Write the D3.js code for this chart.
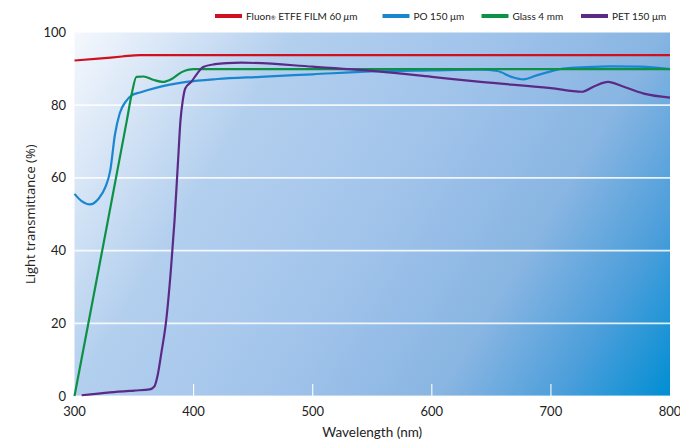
<!DOCTYPE html>
<html>
<head>
<meta charset="utf-8">
<script src="https://cdn.jsdelivr.net/npm/d3@7"></script>
<style>
  body { margin: 0; background: #fff; }
  svg { display: block; font-family: "Lato", "Open Sans", sans-serif; }
</style>
</head>
<body>
<div id="chart"></div>
<script>
// Light transmittance vs wavelength

const xTicks = [300, 400, 500, 600, 700, 800];
const yTicks = [0, 20, 40, 60, 80, 100];

const fluonWl = [300, 320, 340, 355, 370, 400, 500, 600, 700, 800];
const fluonT  = [92.3, 92.8, 93.4, 93.8, 93.8, 93.8, 93.8, 93.8, 93.8, 93.8];

const poWl = [300, 306, 313, 320, 326, 330, 334, 338, 343, 348, 355, 361, 375, 394, 420, 456, 500, 550, 600, 641, 655, 667, 677, 688, 700, 710, 730, 750, 775, 800];
const poT  = [55.6, 53.6, 52.7, 54.2, 57.5, 62.0, 72.0, 77.8, 81.0, 82.7, 83.5, 84.1, 85.3, 86.4, 87.2, 87.8, 88.5, 89.3, 89.6, 89.8, 89.4, 87.8, 87.1, 88.2, 89.3, 90.1, 90.5, 90.7, 90.6, 89.9];

const glassWl = [300, 320, 344, 348, 352, 358, 366, 374, 382, 390, 396, 400, 450, 500, 600, 700, 800];
const glassT  = [0, 34.4, 75.9, 83.0, 87.8, 87.9, 87.0, 86.4, 87.3, 89.1, 89.8, 89.9, 89.9, 89.9, 89.9, 89.9, 89.9];

const petWl = [306, 330, 350, 363, 367, 370, 373, 377, 381, 384, 387, 389, 391, 393, 398, 403, 408, 418, 428, 440, 500, 555, 600, 641, 700, 726, 737, 748, 760, 778, 800];
const petT  = [0.2, 1.0, 1.5, 1.8, 2.6, 6.0, 12.0, 20.8, 35.0, 48.3, 65.0, 75.9, 81.5, 84.6, 86.4, 88.7, 90.5, 91.3, 91.6, 91.7, 90.6, 89.3, 87.8, 86.4, 84.7, 83.7, 85.3, 86.4, 85.2, 83.2, 82.1];

const seriesNames = ["Fluon", "PO 150 μm", "Glass 4 mm", "PET 150 μm"];
const seriesColors = ["#d0101f", "#1a86d0", "#0d9146", "#5b2a86"];

const series = [
  { name: seriesNames[0], color: seriesColors[0], wl: fluonWl, t: fluonT },
  { name: seriesNames[1], color: seriesColors[1], wl: poWl, t: poT },
  { name: seriesNames[2], color: seriesColors[2], wl: glassWl, t: glassT },
  { name: seriesNames[3], color: seriesColors[3], wl: petWl, t: petT }
];

const width = 680, height = 445;
const margin = { left: 74.5, right: 10, top: 32.5, bottom: 49 };

const svg = d3.select("#chart").append("svg")
  .attr("width", width)
  .attr("height", height);

const x = d3.scaleLinear().domain([300, 800]).range([margin.left, width - margin.right]);
const y = d3.scaleLinear().domain([0, 100]).range([height - margin.bottom, margin.top]);

// background gradient
const defs = svg.append("defs");
const grad = defs.append("linearGradient")
  .attr("id", "bg")
  .attr("gradientUnits", "userSpaceOnUse")
  .attr("x1", x(300)).attr("y1", y(100))
  .attr("x2", x(800)).attr("y2", y(0));
[[0, "#f5f8fd"], [0.27, "#b3cfee"], [0.5, "#a2c4eb"], [0.72, "#88b5e2"], [0.86, "#4e9fdb"], [1, "#008ed3"]]
  .forEach(s => grad.append("stop").attr("offset", s[0]).attr("stop-color", s[1]));

svg.append("rect")
  .attr("x", x(300)).attr("y", y(100))
  .attr("width", x(800) - x(300)).attr("height", y(0) - y(100))
  .attr("fill", "url(#bg)");

// grid
svg.append("g").selectAll("line")
  .data(yTicks.filter(d => d > 0 && d < 100))
  .enter().append("line")
  .attr("x1", x(300)).attr("x2", x(800))
  .attr("y1", d => y(d)).attr("y2", d => y(d))
  .attr("stroke", "#fff").attr("stroke-width", 1.8).attr("opacity", 0.85);

svg.append("line")
  .attr("x1", x(300)).attr("x2", x(800))
  .attr("y1", y(0)).attr("y2", y(0))
  .attr("stroke", "#fff").attr("stroke-width", 1.2).attr("opacity", 0.8);

// small ticks at bottom
svg.append("g").selectAll("line")
  .data(xTicks.filter(d => d > 300 && d < 800))
  .enter().append("line")
  .attr("x1", d => x(d)).attr("x2", d => x(d))
  .attr("y1", y(0)).attr("y2", y(0) - 12)
  .attr("stroke", "#fff").attr("stroke-width", 1.2).attr("opacity", 0.9);

// tick labels
svg.append("g").selectAll("text")
  .data(xTicks)
  .enter().append("text")
  .attr("x", d => x(d)).attr("y", y(0) + 20)
  .attr("text-anchor", "middle")
  .attr("font-size", 13).attr("fill", "#222")
  .text(d => d);

svg.append("g").selectAll("text")
  .data(yTicks)
  .enter().append("text")
  .attr("x", 66).attr("y", d => y(d) + 4.5)
  .attr("text-anchor", "end")
  .attr("font-size", 13).attr("fill", "#222")
  .text(d => d);

// axis titles
svg.append("text")
  .attr("x", (x(300) + x(800)) / 2).attr("y", 437)
  .attr("text-anchor", "middle")
  .attr("font-size", 13.5).attr("fill", "#222")
  .text("Wavelength (nm)");

svg.append("text")
  .attr("transform", `translate(35,${(y(0) + y(100)) / 2}) rotate(-90)`)
  .attr("text-anchor", "middle")
  .attr("font-family", "Open Sans, sans-serif")
  .attr("font-size", 13).attr("fill", "#222")
  .text("Light transmittance (%)");

// lines
const line = d3.line()
  .x(d => x(d[0]))
  .y(d => y(d[1]))
  .curve(d3.curveMonotoneX);

svg.append("g").selectAll("path")
  .data(series)
  .enter().append("path")
  .attr("d", s => line(s.wl.map((w, i) => [w, s.t[i]])))
  .attr("fill", "none")
  .attr("stroke", s => s.color)
  .attr("stroke-width", 2.2)
  .attr("stroke-linejoin", "round");

// legend
const legendX = [215, 382.5, 481.5, 581];
const legend = svg.append("g").attr("font-size", 10).attr("fill", "#222");
series.forEach((s, i) => {
  const g = legend.append("g").attr("transform", `translate(${legendX[i]},16)`);
  g.append("rect").attr("x", 0).attr("y", -2).attr("width", 27).attr("height", 4).attr("fill", s.color);
  const t = g.append("text").attr("x", 31).attr("y", 3.5);
  if (i === 0) {
    t.append("tspan").text("Fluon");
    t.append("tspan").attr("font-size", 6).text("®");
    t.append("tspan").text(" ETFE FILM 60 ");
    t.append("tspan").attr("font-style", "italic").text("μ");
    t.append("tspan").text("m");
  } else {
    t.text(s.name);
  }
});
</script>
</body>
</html>
